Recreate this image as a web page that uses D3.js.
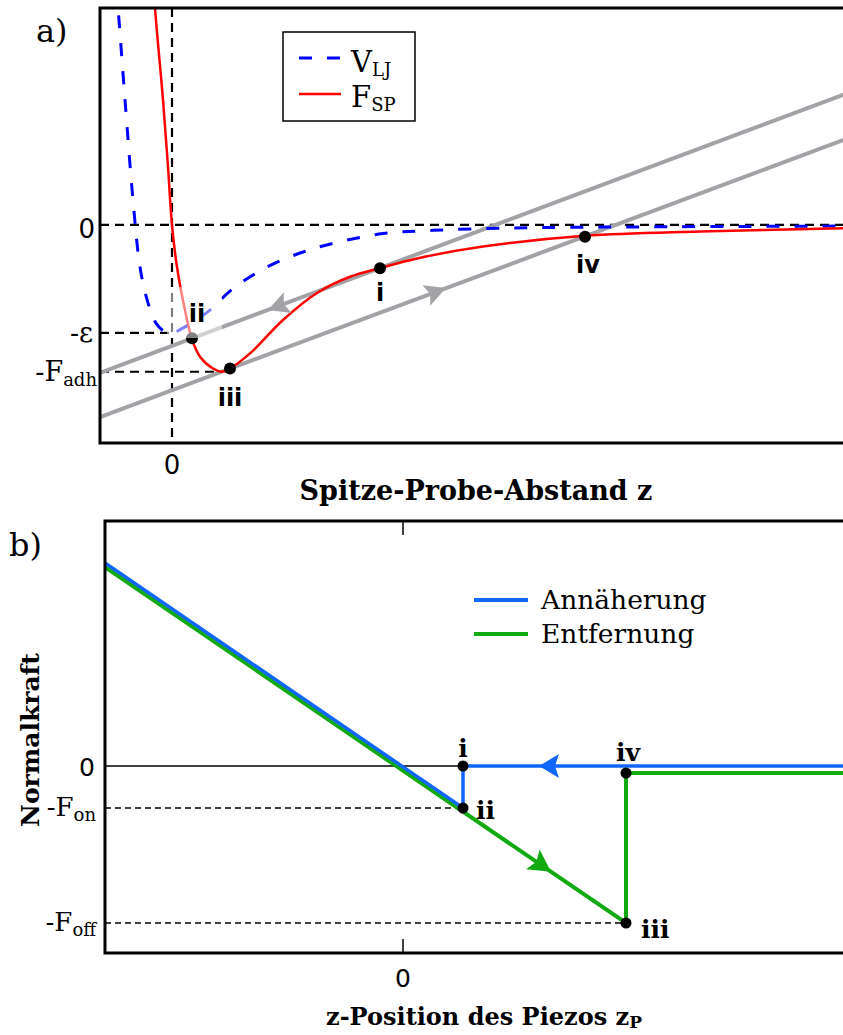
<!DOCTYPE html>
<html>
<head>
<meta charset="utf-8">
<script src="https://cdn.jsdelivr.net/npm/d3@7"></script>
<style>
  body { margin: 0; background: #fff; }
  svg { display: block; }
</style>
</head>
<body>
<div id="container"></div>
<script>
// window size
let cwW = 843;
let cwH = 1035;

/**************************
* Data
**************************/
// panel a: Lennard-Jones potential, z vs V
const vljPoints = [
  [-0.56, 2.2], [-0.54, 2.01], [-0.47, 1.16], [-0.39, 0.23], [-0.32, -0.39],
  [-0.25, -0.69], [-0.16, -0.91], [-0.07, -0.99], [0.0, -1.0], [0.08, -0.97],
  [0.35, -0.81], [0.61, -0.59], [0.95, -0.39], [1.28, -0.26], [1.61, -0.17],
  [2.11, -0.08], [2.61, -0.05], [3.28, -0.03], [4.28, -0.02], [6.78, -0.01]
];
// panel a: tip-sample force, z vs F
const fspPoints = [
  [-0.18, 2.2], [-0.17, 2.01], [-0.09, 1.16], [-0.04, 0.54], [0.0, 0.0],
  [0.05, -0.39], [0.13, -0.79], [0.20, -1.06], [0.28, -1.22], [0.41, -1.33],
  [0.50, -1.36], [0.58, -1.33], [0.78, -1.19], [1.11, -0.88], [1.45, -0.63],
  [1.78, -0.48], [2.08, -0.40], [2.45, -0.31], [3.11, -0.20], [4.13, -0.10],
  [5.28, -0.06], [6.78, -0.03]
];
// spring lines (cantilever)
const approachLineA = [[-0.72, -1.37], [6.78, 1.23]];
const retractLineA  = [[-0.72, -1.78], [6.78, 0.81]];
const arrowsA = [
  {line: "approach", z: 0.96, dir: -1},
  {line: "retract",  z: 2.74, dir: 1}
];
const pointsA = [
  {name: "i",   z: 2.08, F: -0.40},
  {name: "ii",  z: 0.20, F: -1.05},
  {name: "iii", z: 0.58, F: -1.33},
  {name: "iv",  z: 4.13, F: -0.11}
];
const epsLevel = -1.0;
const adhLevel = -1.36;
const adhZ = 0.53;

// panel b: force-distance curve, z_P vs normal force
const approachB = [[-2.98, 2.03], [0.60, -0.42], [0.60, 0.0], [4.47, 0.0]];
const retractB  = [[-2.98, 1.99], [2.23, -1.57], [2.23, -0.07], [4.47, -0.07]];
const pointsB = [
  {name: "i",   z: 0.60, F: 0.0},
  {name: "ii",  z: 0.60, F: -0.42},
  {name: "iii", z: 2.23, F: -1.57},
  {name: "iv",  z: 2.23, F: -0.07}
];
const fOn = -0.42;
const fOff = -1.57;

/**************************
* SVG
**************************/
let svgArea = d3.select("#container").append("svg")
  .attr("width", cwW)
  .attr("height", cwH);

const serif = "'DejaVu Serif', serif";
const sans = "'DejaVu Sans', sans-serif";

// draws an arrow head with its tip at (x,y) pointing along angle (deg)
function arrowHead(g, x, y, angle, color, len, half) {
  g.append("path")
    .attr("d", "M0,0 L" + (-len) + "," + (-half) + " L" + (-len*0.8) + ",0 L" + (-len) + "," + half + "Z")
    .attr("transform", "translate(" + x + "," + y + ") rotate(" + angle + ")")
    .attr("fill", color);
}

/**************************
* Panel a
**************************/
function drawA() {
  const left = 100, right = 850, top = 8, bottom = 443;
  let x = d3.scaleLinear().domain([-0.72, 6.78]).range([left, right]);
  let y = d3.scaleLinear().domain([-2.02, 2.01]).range([bottom, top]);

  let g = svgArea.append("g").attr("id", "panelA");

  g.append("clipPath").attr("id", "clipA")
    .append("rect").attr("x", left).attr("y", top)
    .attr("width", right - left).attr("height", bottom - top);

  let plot = g.append("g").attr("clip-path", "url(#clipA)");

  // dashed reference lines
  const dash = "9,6";
  plot.append("line")
    .attr("x1", x(0)).attr("x2", x(0)).attr("y1", top).attr("y2", bottom)
    .attr("stroke", "black").attr("stroke-width", 2.2).attr("stroke-dasharray", dash);
  plot.append("line")
    .attr("x1", left).attr("x2", right).attr("y1", y(0)).attr("y2", y(0))
    .attr("stroke", "black").attr("stroke-width", 2.2).attr("stroke-dasharray", dash);
  plot.append("line")
    .attr("x1", left).attr("x2", x(0)).attr("y1", y(epsLevel)).attr("y2", y(epsLevel))
    .attr("stroke", "black").attr("stroke-width", 2.2).attr("stroke-dasharray", dash);
  plot.append("line")
    .attr("x1", left).attr("x2", x(adhZ)).attr("y1", y(adhLevel)).attr("y2", y(adhLevel))
    .attr("stroke", "black").attr("stroke-width", 2.2).attr("stroke-dasharray", dash);

  // gray spring lines
  let lineGen = d3.line().x(d => x(d[0])).y(d => y(d[1]));
  [approachLineA, retractLineA].forEach(function(l){
    plot.append("path")
      .attr("d", lineGen(l))
      .attr("fill", "none")
      .attr("stroke", "#a3a3a7")
      .attr("stroke-width", 4);
  });

  // curves
  let curveGen = d3.line().x(d => x(d[0])).y(d => y(d[1])).curve(d3.curveCatmullRom.alpha(0.5));
  plot.append("path")
    .attr("d", curveGen(vljPoints))
    .attr("fill", "none")
    .attr("stroke", "#0000ff")
    .attr("stroke-width", 3)
    .attr("stroke-dasharray", "13,15");
  plot.append("path")
    .attr("d", curveGen(fspPoints))
    .attr("fill", "none")
    .attr("stroke", "#ff0000")
    .attr("stroke-width", 2.5);

  // arrows on the spring lines
  arrowsA.forEach(function(a){
    let l = a.line == "approach" ? approachLineA : retractLineA;
    let t = (a.z - l[0][0]) / (l[1][0] - l[0][0]);
    let F = l[0][1] + t * (l[1][1] - l[0][1]);
    let ang = Math.atan2(y(l[1][1]) - y(l[0][1]), x(l[1][0]) - x(l[0][0])) * 180 / Math.PI;
    if (a.dir < 0) ang += 180;
    arrowHead(plot, x(a.z), y(F), ang, "#a3a3a7", 21, 11);
  });

  // points
  plot.selectAll("circle.pt")
    .data(pointsA)
    .enter()
    .append("circle")
    .attr("cx", d => x(d.z))
    .attr("cy", d => y(d.F))
    .attr("r", 6)
    .attr("fill", "black");

  // translucent label box behind "ii"
  plot.append("rect")
    .attr("x", x(0) - 5).attr("y", 287)
    .attr("width", 55).attr("height", 51)
    .attr("fill", "white").attr("opacity", 0.5);

  // point labels
  const labA = {
    "i":   [0, 33],
    "ii":  [5, -16],
    "iii": [0, 37],
    "iv":  [3, 36]
  };
  g.selectAll("text.lab")
    .data(pointsA)
    .enter()
    .append("text")
    .attr("x", d => x(d.z) + labA[d.name][0])
    .attr("y", d => y(d.F) + labA[d.name][1])
    .attr("text-anchor", "middle")
    .attr("font-family", sans)
    .attr("font-weight", "bold")
    .attr("font-size", 24)
    .text(d => d.name);

  // frame
  g.append("rect")
    .attr("x", left).attr("y", top)
    .attr("width", right - left).attr("height", bottom - top)
    .attr("fill", "none").attr("stroke", "black").attr("stroke-width", 3);

  // legend
  let leg = g.append("g");
  leg.append("rect")
    .attr("x", 283).attr("y", 32).attr("width", 132).attr("height", 89)
    .attr("fill", "white").attr("stroke", "black").attr("stroke-width", 1.5);
  leg.append("line")
    .attr("x1", 299).attr("x2", 341).attr("y1", 58).attr("y2", 58)
    .attr("stroke", "#0000ff").attr("stroke-width", 3).attr("stroke-dasharray", "13,15");
  leg.append("line")
    .attr("x1", 299).attr("x2", 341).attr("y1", 94).attr("y2", 94)
    .attr("stroke", "#ff0000").attr("stroke-width", 2.5);
  let t1 = leg.append("text").attr("x", 351).attr("y", 72)
    .attr("font-family", serif).attr("font-size", 29);
  t1.append("tspan").text("V");
  t1.append("tspan").attr("font-size", 18).attr("dy", 4).text("LJ");
  let t2 = leg.append("text").attr("x", 351).attr("y", 107)
    .attr("font-family", serif).attr("font-size", 29);
  t2.append("tspan").text("F");
  t2.append("tspan").attr("font-size", 18).attr("dy", 4).text("SP");

  // axis texts
  g.append("text").attr("x", 95).attr("y", y(0) + 13)
    .attr("text-anchor", "end").attr("font-family", sans).attr("font-size", 26).text("0");
  g.append("text").attr("x", 93).attr("y", y(epsLevel) + 9)
    .attr("text-anchor", "end").attr("font-family", serif).attr("font-size", 27).text("-ε");
  let tf = g.append("text").attr("x", 97).attr("y", y(adhLevel) + 9)
    .attr("text-anchor", "end").attr("font-family", serif).attr("font-size", 27);
  tf.append("tspan").text("-F");
  tf.append("tspan").attr("font-size", 18).attr("dy", 5).text("adh");
  g.append("text").attr("x", x(0)).attr("y", 474)
    .attr("text-anchor", "middle").attr("font-family", sans).attr("font-size", 26).text("0");
  g.append("text").attr("x", 476).attr("y", 500)
    .attr("text-anchor", "middle").attr("font-family", serif).attr("font-weight", "bold")
    .attr("font-size", 27).text("Spitze-Probe-Abstand z");
  g.append("text").attr("x", 36).attr("y", 42)
    .attr("font-family", serif).attr("font-size", 32).text("a)");
}

/**************************
* Panel b
**************************/
function drawB() {
  const left = 105, right = 850, top = 521, bottom = 953;
  let x = d3.scaleLinear().domain([-2.98, 4.47]).range([left, right]);
  let y = d3.scaleLinear().domain([-1.87, 2.45]).range([bottom, top]);

  let g = svgArea.append("g").attr("id", "panelB");

  g.append("clipPath").attr("id", "clipB")
    .append("rect").attr("x", left).attr("y", top)
    .attr("width", right - left).attr("height", bottom - top);
  let plot = g.append("g").attr("clip-path", "url(#clipB)");

  // zero line and ticks
  plot.append("line")
    .attr("x1", left).attr("x2", right).attr("y1", y(0)).attr("y2", y(0))
    .attr("stroke", "black").attr("stroke-width", 1.5);
  plot.append("line")
    .attr("x1", x(0)).attr("x2", x(0)).attr("y1", top).attr("y2", top + 14)
    .attr("stroke", "black").attr("stroke-width", 1.5);
  plot.append("line")
    .attr("x1", x(0)).attr("x2", x(0)).attr("y1", bottom).attr("y2", bottom - 14)
    .attr("stroke", "black").attr("stroke-width", 1.5);

  // dashed force levels
  plot.append("line")
    .attr("x1", left).attr("x2", x(pointsB[1].z)).attr("y1", y(fOn)).attr("y2", y(fOn))
    .attr("stroke", "black").attr("stroke-width", 1.5).attr("stroke-dasharray", "6,4");
  plot.append("line")
    .attr("x1", left).attr("x2", x(pointsB[2].z)).attr("y1", y(fOff)).attr("y2", y(fOff))
    .attr("stroke", "black").attr("stroke-width", 1.5).attr("stroke-dasharray", "6,4");

  let lineGen = d3.line().x(d => x(d[0])).y(d => y(d[1]));
  plot.append("path")
    .attr("d", lineGen(retractB))
    .attr("fill", "none").attr("stroke", "#11aa11").attr("stroke-width", 4);
  plot.append("path")
    .attr("d", lineGen(approachB))
    .attr("fill", "none").attr("stroke", "#1166ff").attr("stroke-width", 3.5);

  // arrows
  arrowHead(plot, x(1.36), y(0), 180, "#1166ff", 20, 12);
  let a0 = retractB[0], a1 = retractB[1];
  let t = (1.48 - a0[0]) / (a1[0] - a0[0]);
  let angG = Math.atan2(y(a1[1]) - y(a0[1]), x(a1[0]) - x(a0[0])) * 180 / Math.PI;
  arrowHead(plot, x(1.48), y(a0[1] + t * (a1[1] - a0[1])), angG, "#11aa11", 22, 12);

  // points
  plot.selectAll("circle.pt")
    .data(pointsB)
    .enter()
    .append("circle")
    .attr("cx", d => x(d.z))
    .attr("cy", d => y(d.F))
    .attr("r", 5.5)
    .attr("fill", "black");

  const labB = {
    "i":   [0, -9, "middle"],
    "ii":  [13, 11, "start"],
    "iii": [15, 15, "start"],
    "iv":  [2, -12, "middle"]
  };
  g.selectAll("text.lab")
    .data(pointsB)
    .enter()
    .append("text")
    .attr("x", d => x(d.z) + labB[d.name][0])
    .attr("y", d => y(d.F) + labB[d.name][1])
    .attr("text-anchor", d => labB[d.name][2])
    .attr("font-family", serif)
    .attr("font-weight", "bold")
    .attr("font-size", 25)
    .text(d => d.name);

  // frame
  g.append("rect")
    .attr("x", left).attr("y", top)
    .attr("width", right - left).attr("height", bottom - top)
    .attr("fill", "none").attr("stroke", "black").attr("stroke-width", 3);

  // legend
  g.append("line").attr("x1", 474).attr("x2", 528).attr("y1", 600).attr("y2", 600)
    .attr("stroke", "#1166ff").attr("stroke-width", 4);
  g.append("line").attr("x1", 474).attr("x2", 528).attr("y1", 634).attr("y2", 634)
    .attr("stroke", "#11aa11").attr("stroke-width", 4);
  g.append("text").attr("x", 541).attr("y", 609)
    .attr("font-family", serif).attr("font-size", 26.5).text("Annäherung");
  g.append("text").attr("x", 541).attr("y", 643)
    .attr("font-family", serif).attr("font-size", 26.5).text("Entfernung");

  // axis texts
  g.append("text").attr("x", 95).attr("y", y(0) + 10)
    .attr("text-anchor", "end").attr("font-family", sans).attr("font-size", 25).text("0");
  let ton = g.append("text").attr("x", 96).attr("y", y(fOn) + 8)
    .attr("text-anchor", "end").attr("font-family", serif).attr("font-size", 26);
  ton.append("tspan").text("-F");
  ton.append("tspan").attr("font-size", 18).attr("dy", 5).text("on");
  let toff = g.append("text").attr("x", 96).attr("y", y(fOff) + 8)
    .attr("text-anchor", "end").attr("font-family", serif).attr("font-size", 26);
  toff.append("tspan").text("-F");
  toff.append("tspan").attr("font-size", 18).attr("dy", 5).text("off");
  g.append("text").attr("x", x(0)).attr("y", 987)
    .attr("text-anchor", "middle").attr("font-family", sans).attr("font-size", 25).text("0");

  let xl = g.append("text").attr("x", 484).attr("y", 1025)
    .attr("text-anchor", "middle").attr("font-family", serif).attr("font-weight", "bold")
    .attr("font-size", 24);
  xl.append("tspan").text("z-Position des Piezos z");
  xl.append("tspan").attr("font-size", 17).attr("dy", 3).text("P");

  g.append("text")
    .attr("transform", "translate(39,740) rotate(-90)")
    .attr("text-anchor", "middle").attr("font-family", serif).attr("font-weight", "bold")
    .attr("font-size", 25).text("Normalkraft");

  g.append("text").attr("x", 9).attr("y", 556)
    .attr("font-family", serif).attr("font-size", 32).text("b)");
}

drawA();
drawB();
</script>
</body>
</html>
